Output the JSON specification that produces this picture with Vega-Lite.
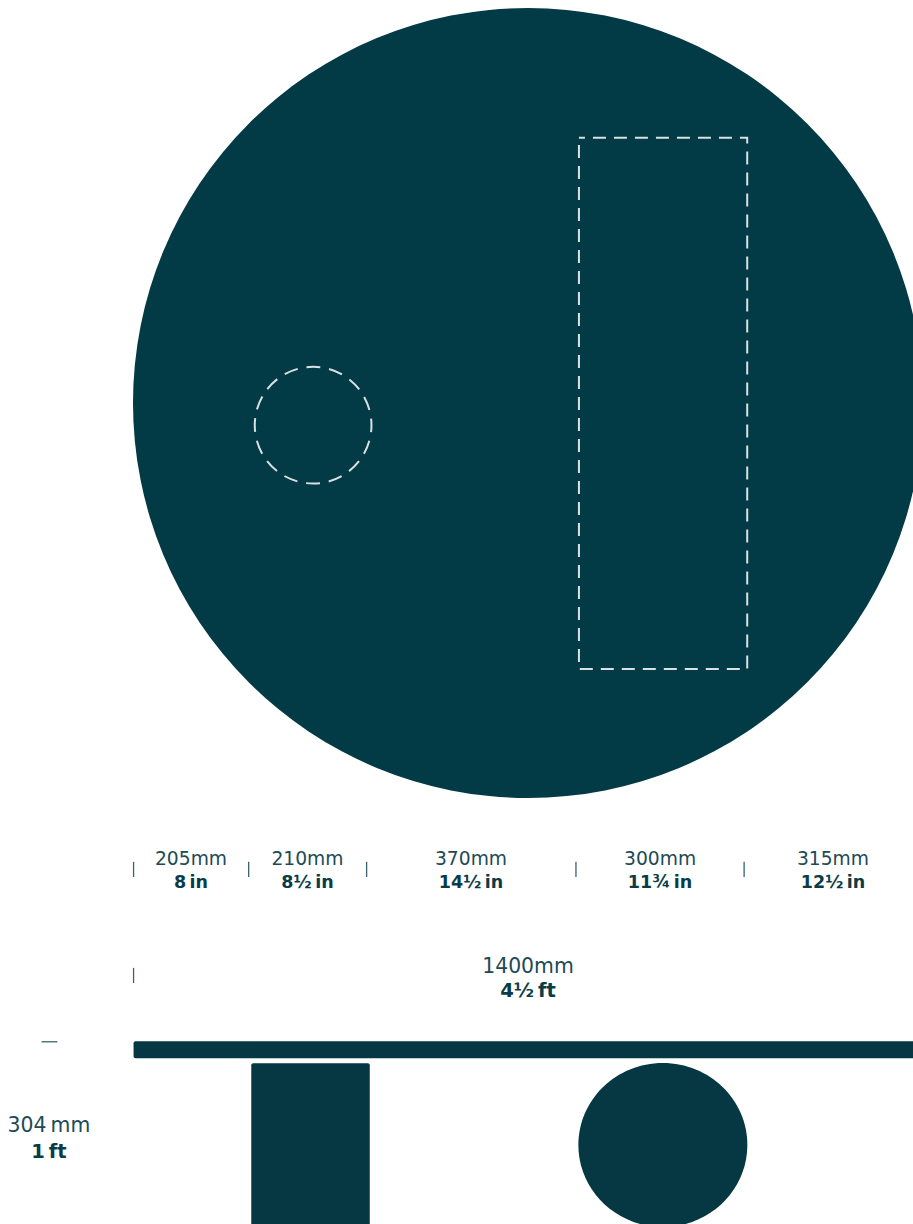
{"$schema":"https://vega.github.io/schema/vega-lite/v6.json","width":913,"height":1224,"padding":0,"autosize":{"type":"none"},"background":"#ffffff","view":{"stroke":null},
"encoding":{"x":{"field":"x","type":"quantitative","scale":{"domain":[-235.7,1382.3],"nice":false,"zero":false},"axis":null},"y":{"field":"y","type":"quantitative","scale":{"domain":[-14.2,2154.9],"nice":false,"zero":false,"reverse":true},"axis":null}},
"layer":[
{"data":{"values":[{"name":"table top","x":700,"y":700}]},"mark":{"type":"point","shape":"circle","filled":true,"size":624100,"color":"#023a46","opacity":1}},
{"data":{"values":[{"name":"hole","x":319.2,"y":739.3}]},"mark":{"type":"point","shape":"circle","filled":false,"size":13619,"stroke":"#d8e1e3","strokeWidth":2,"strokeDash":[14,8.9],"strokeDashOffset":7,"opacity":1}},
{"data":{"values":[{"name":"cutout","x":790.3,"x2":1088.5,"y":229.8,"y2":1171.4}]},"mark":{"type":"rect","fill":null,"stroke":"#d8e1e3","strokeWidth":2,"strokeDash":[13,8],"strokeDashOffset":7},"encoding":{"x2":{"field":"x2"},"y2":{"field":"y2"}}},
{"data":{"values":[{"x":1,"y":1513,"y2":1540},{"x":205,"y":1513,"y2":1540},{"x":414,"y":1513,"y2":1540},{"x":785,"y":1513,"y2":1540},{"x":1083,"y":1513,"y2":1540},{"x":1,"y":1701,"y2":1728}]},"mark":{"type":"rule","stroke":"#3b626c","strokeWidth":1.3},"encoding":{"y2":{"field":"y2"}}},
{"data":{"values":[{"x":-162,"x2":-134,"y":1832}]},"mark":{"type":"rule","stroke":"#3b626c","strokeWidth":1.3},"encoding":{"x2":{"field":"x2"}}},
{"data":{"values":[{"name":"top","x":1,"x2":1400,"y":1831,"y2":1861}]},"mark":{"type":"rect","fill":"#063844","cornerRadius":2},"encoding":{"x2":{"field":"x2"},"y2":{"field":"y2"}}},
{"data":{"values":[{"name":"leg rect","x":209.6,"x2":419.6,"y":1870,"y2":2174}]},"mark":{"type":"rect","fill":"#063844","cornerRadius":2},"encoding":{"x2":{"field":"x2"},"y2":{"field":"y2"}}},
{"data":{"values":[{"name":"leg round","x":939,"y":2015}]},"mark":{"type":"point","shape":"M1,0A1,0.97 0 1 1 -1,0A1,0.97 0 1 1 1,0Z","filled":true,"size":28561,"color":"#063844","opacity":1}},
{"data":{"values":[{"x":102.8,"y":1518.7,"t":"205mm"},{"x":309.2,"y":1518.7,"t":"210mm"},{"x":599,"y":1518.7,"t":"370mm"},{"x":934,"y":1518.7,"t":"300mm"},{"x":1240.5,"y":1518.7,"t":"315mm"}]},"mark":{"type":"text","font":"DejaVu Sans","fontSize":18.7,"fill":"#1d4a55","align":"center","baseline":"alphabetic"},"encoding":{"text":{"field":"t"}}},
{"data":{"values":[{"x":102.8,"y":1559.5,"t":"8\u2009in"},{"x":309.2,"y":1559.5,"t":"8½\u2009in"},{"x":599,"y":1559.5,"t":"14½\u2009in"},{"x":934,"y":1559.5,"t":"11¾\u2009in"},{"x":1240.5,"y":1559.5,"t":"12½\u2009in"}]},"mark":{"type":"text","font":"DejaVu Sans","fontSize":17.5,"fontWeight":"bold","fill":"#0a3c48","align":"center","baseline":"alphabetic"},"encoding":{"text":{"field":"t"}}},
{"data":{"values":[{"x":700,"y":1710,"t":"1400mm"},{"x":-148.9,"y":1991.5,"t":"304\u2009mm"}]},"mark":{"type":"text","font":"DejaVu Sans","fontSize":20.4,"fill":"#1d4a55","align":"center","baseline":"alphabetic"},"encoding":{"text":{"field":"t"}}},
{"data":{"values":[{"x":700,"y":1753,"t":"4½\u2009ft"},{"x":-148.9,"y":2038,"t":"1\u2009ft"}]},"mark":{"type":"text","font":"DejaVu Sans","fontSize":19.5,"fontWeight":"bold","fill":"#0a3c48","align":"center","baseline":"alphabetic"},"encoding":{"text":{"field":"t"}}}
]}
